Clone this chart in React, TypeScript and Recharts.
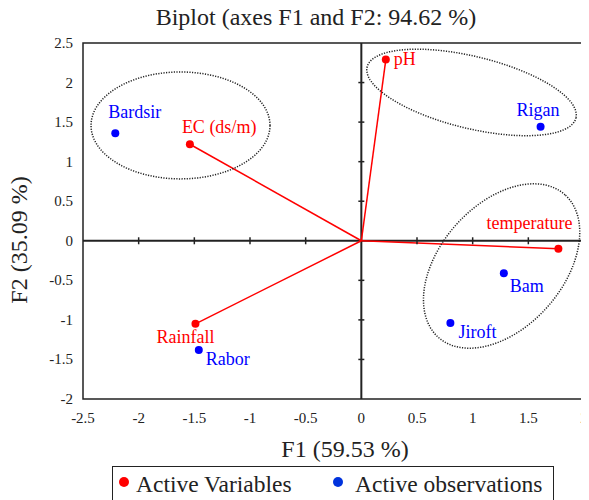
import React from 'react';
import { ScatterChart, Scatter, XAxis, YAxis, ReferenceLine, ReferenceArea } from 'recharts';

// Biplot data (F1 / F2 coordinates)
const variableNames = ['pH', 'EC (ds/m)', 'Rainfall', 'temperature'];
const variableF1 = [0.22, -1.54, -1.49, 1.77];
const variableF2 = [2.29, 1.22, -1.05, -0.1];

const observationNames = ['Bardsir', 'Rigan', 'Bam', 'Jiroft', 'Rabor'];
const observationF1 = [-2.21, 1.61, 1.28, 0.8, -1.46];
const observationF2 = [1.36, 1.44, -0.41, -1.04, -1.38];

const xTicks = [-2.5, -2, -1.5, -1, -0.5, 0, 0.5, 1, 1.5, 2];
const yTicks = [-2, -1.5, -1, -0.5, 0, 0.5, 1, 1.5, 2, 2.5];

// group ellipses: centre, first and second semi-axis vectors (data units)
const ellipseCenters = [[-1.624, 1.458], [0.99, 1.875], [1.26, -0.319]];
const ellipseAxisU = [[0.804, 0], [0.938, -0.322], [0.57, 0.9]];
const ellipseAxisV = [[0, 0.676], [0.077, 0.442], [-0.41, 0.52]];

const FONT = '"Liberation Serif", "Times New Roman", serif';
const RED = '#ff0000';
const BLUE = '#0000ff';
const INK = '#222';

const variables = variableNames.map((name, i) => ({ name, x: variableF1[i], y: variableF2[i] }));
const observations = observationNames.map((name, i) => ({ name, x: observationF1[i], y: observationF2[i] }));

const ellipses = ellipseCenters.map((c, k) => {
  const pts = [];
  for (let i = 0; i <= 96; i++) {
    const t = (i / 96) * Math.PI * 2;
    pts.push({
      x: c[0] + ellipseAxisU[k][0] * Math.cos(t) + ellipseAxisV[k][0] * Math.sin(t),
      y: c[1] + ellipseAxisU[k][1] * Math.cos(t) + ellipseAxisV[k][1] * Math.sin(t),
    });
  }
  return pts;
});

const xTickMarks = xTicks.filter((t) => t > -2.5 && t < 2 && t !== 0).map((t) => ({ x: t, y: 0 }));
const yTickMarks = yTicks.filter((t) => t > -2 && t < 2.5 && t !== 0).map((t) => ({ x: 0, y: t }));

// label placement relative to each marker (px)
const labelPos: Record<string, { dx: number; dy: number; anchor: string }> = {
  pH: { dx: 8, dy: 5, anchor: 'start' },
  'EC (ds/m)': { dx: -8, dy: -11, anchor: 'start' },
  Rainfall: { dx: -39, dy: 19, anchor: 'start' },
  temperature: { dx: 14, dy: -20, anchor: 'end' },
  Bardsir: { dx: -7, dy: -15, anchor: 'start' },
  Rigan: { dx: -24, dy: -11, anchor: 'start' },
  Bam: { dx: 6, dy: 19, anchor: 'start' },
  Jiroft: { dx: 8, dy: 15, anchor: 'start' },
  Rabor: { dx: 7, dy: 15, anchor: 'start' },
};

const pointShape = (color: string) => (props: any) => {
  const { cx, cy, payload } = props;
  const o = labelPos[payload.name];
  return (
    <g>
      <circle cx={cx} cy={cy} r={4} fill={color} />
      <text
        x={cx + o.dx}
        y={cy + o.dy}
        textAnchor={o.anchor}
        fill={color}
        style={{ fontSize: 18, fontFamily: FONT }}
      >
        {payload.name}
      </text>
    </g>
  );
};

const hTick = (props: any) => (
  <line x1={props.cx} y1={props.cy - 3.5} x2={props.cx} y2={props.cy + 3.5} stroke={INK} strokeWidth={1.5} />
);
const vTick = (props: any) => (
  <line x1={props.cx - 3} y1={props.cy} x2={props.cx + 3} y2={props.cy} stroke={INK} strokeWidth={1.5} />
);
const noShape = () => <g />;

const XTick = (props: any) => (
  <text x={props.x} y={391 + 24} textAnchor="middle" fill={INK} style={{ fontSize: 15, fontFamily: FONT }}>
    {props.payload.value}
  </text>
);
const YTick = (props: any) => (
  <text x={65} y={props.y + 5} textAnchor="end" fill={INK} style={{ fontSize: 15, fontFamily: FONT }}>
    {props.payload.value}
  </text>
);

export default function App() {
  return (
    <div style={{ position: 'relative', width: 581, height: 492, fontFamily: FONT, color: INK }}>
      <div style={{ position: 'absolute', left: 108, top: -3, width: 400, textAlign: 'center', fontSize: 24, lineHeight: '24px' }}>
        Biplot (axes F1 and F2: 94.62 %)
      </div>

      <ScatterChart
        width={581}
        height={492}
        margin={{ top: 35, right: 5, bottom: 71, left: 15 }}
        style={{ fontFamily: FONT }}
      >
        <XAxis
          type="number"
          dataKey="x"
          domain={[-2.5, 2]}
          ticks={xTicks}
          axisLine={false}
          tickLine={false}
          height={30}
          tick={<XTick />}
          interval={0}
          allowDataOverflow
        />
        <YAxis
          type="number"
          dataKey="y"
          domain={[-2, 2.5]}
          ticks={yTicks}
          axisLine={false}
          tickLine={false}
          width={60}
          tick={<YTick />}
          interval={0}
          allowDataOverflow
        />
        <ReferenceArea x1={-2.5} x2={2} y1={-2} y2={2.5} fill="none" stroke={INK} strokeWidth={1.5} />
        <ReferenceLine x={0} stroke={INK} strokeWidth={2} />
        <ReferenceLine y={0} stroke={INK} strokeWidth={2} />
        <Scatter data={xTickMarks} shape={hTick} isAnimationActive={false} />
        <Scatter data={yTickMarks} shape={vTick} isAnimationActive={false} />
        {ellipses.map((pts, i) => (
          <Scatter
            key={i}
            data={pts}
            shape={noShape}
            line={{ stroke: '#222', strokeWidth: 1.5, strokeDasharray: '1.2 1.4' }}
            isAnimationActive={false}
          />
        ))}
        {variables.map((v) => (
          <ReferenceLine
            key={v.name}
            segment={[{ x: 0, y: 0 }, { x: v.x, y: v.y }]}
            stroke={RED}
            strokeWidth={1.5}
          />
        ))}
        <Scatter name="Active Variables" data={variables} shape={pointShape(RED)} isAnimationActive={false} />
        <Scatter name="Active observations" data={observations} shape={pointShape(BLUE)} isAnimationActive={false} />
      </ScatterChart>

      <div style={{ position: 'absolute', left: 337, top: 429, width: 0, whiteSpace: 'nowrap', fontSize: 24, lineHeight: '24px' }}>
        <span style={{ position: 'absolute', transform: 'translateX(-50%)' }}>F1 (59.53 %)</span>
      </div>
      <div
        style={{
          position: 'absolute',
          left: 11 - 100,
          top: 232 - 12,
          width: 200,
          textAlign: 'center',
          fontSize: 24,
          lineHeight: '24px',
          transform: 'rotate(-90deg)',
        }}
      >
        F2 (35.09 %)
      </div>

      <div
        style={{
          position: 'absolute',
          left: 104,
          top: 458,
          width: 440,
          height: 40,
          border: `1.5px solid ${INK}`,
          fontSize: 23.5,
          lineHeight: '24px',
        }}
      >
        <span style={{ position: 'absolute', left: 6, top: 10, width: 10, height: 10, borderRadius: 5, background: RED }} />
        <span style={{ position: 'absolute', left: 23, top: 5, whiteSpace: 'nowrap' }}>Active Variables</span>
        <span style={{ position: 'absolute', left: 220, top: 10, width: 10, height: 10, borderRadius: 5, background: '#0033dd' }} />
        <span style={{ position: 'absolute', left: 242, top: 5, whiteSpace: 'nowrap' }}>Active observations</span>
      </div>
    </div>
  );
}
